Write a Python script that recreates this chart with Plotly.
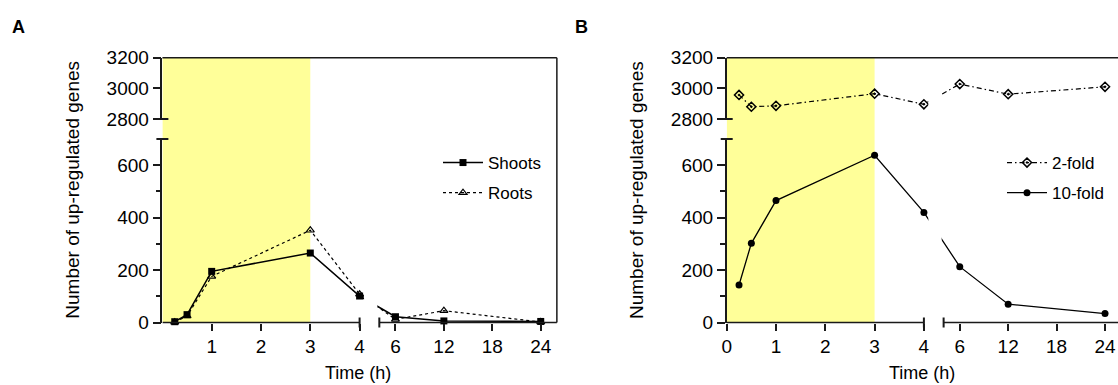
import plotly.graph_objects as go

# ---------------- data ----------------
time_h = [0.25, 0.5, 1, 3, 4, 6, 12, 24]

# Panel A: up-regulated genes in shoots and roots
shoots = [3, 30, 195, 265, 101, 22, 6, 4]
roots = [1, 25, 176, 352, 108, 12, 45, 2]

# Panel B: up-regulated genes at two fold-change thresholds
fold2 = [2957, 2880, 2886, 2965, 2896, 3028, 2962, 3010]
fold10 = [143, 302, 465, 638, 420, 213, 70, 34]

x_tick_hours = [1, 2, 3, 4, 6, 12, 18, 24]
x_tick_hours_b = [0, 1, 2, 3, 4, 6, 12, 18, 24]
y_low_ticks = [0, 200, 400, 600]
y_low_minor = [100, 300, 500]
y_high_ticks = [2800, 3000, 3200]

# ---------------- broken time axis ----------------
# 0-4 h drawn at full scale, then a gap, then 4-26 h compressed
BREAK_T = 4.0
GAP = 0.40
RIGHT_SCALE = 0.1637


def to_axis(t):
    return t if t <= BREAK_T else BREAK_T + GAP + (t - BREAK_T) * RIGHT_SCALE


RIGHT_START = BREAK_T + GAP

W, H = 1118, 385
FONT = "Liberation Sans, Arial, sans-serif"
INK = "#1a1a1a"
YELLOW = "#ffff99"


def px(xp):
    return xp / W


def py(yp):
    return 1 - yp / H


# plot-area geometry (pixels)
A_LEFT, B_LEFT = 162.4, 726.7
UNIT = 49.3  # pixels per hour in the 0-4 h part
X_END = to_axis(26)
Y0, Y700, Y2800, Y3200 = 322.5, 139.0, 119.0, 57.7

a_dom = [px(A_LEFT), px(A_LEFT + X_END * UNIT)]
b_dom = [px(B_LEFT), 1.0]
b_range_end = (W - B_LEFT) / UNIT

low_dom = [py(Y0), py(Y700)]
high_dom = [py(Y2800), py(Y3200)]

fig = go.Figure()

xa = [to_axis(t) for t in time_h]

fig.add_trace(go.Scatter(
    x=xa, y=shoots, name="Shoots", mode="lines+markers", xaxis="x", yaxis="y",
    line=dict(color="black", width=1.5),
    marker=dict(symbol="square", size=7, color="black"),
    cliponaxis=False, legend="legend", legendgroup="s"))
fig.add_trace(go.Scatter(
    x=xa, y=roots, name="Roots", mode="lines+markers", xaxis="x", yaxis="y",
    line=dict(color="black", width=1.2, dash="dot"),
    marker=dict(symbol="triangle-up-open", size=7, color="black", line=dict(width=1.2)),
    cliponaxis=False, legend="legend", legendgroup="r"))
# keeps the upper (2800-3200) segment of panel A's y axis on screen
fig.add_trace(go.Scatter(x=[None], y=[None], xaxis="x", yaxis="y2",
                         showlegend=False, hoverinfo="skip"))

fig.add_trace(go.Scatter(
    x=xa, y=fold2, name="2-fold", mode="lines+markers", xaxis="x2", yaxis="y4",
    line=dict(color="black", width=1.2, dash="5px,3px,1.5px,3px"),
    marker=dict(symbol="diamond-open-dot", size=7, color="black", line=dict(width=1.5)),
    cliponaxis=False, legend="legend2", legendgroup="f2"))
fig.add_trace(go.Scatter(
    x=xa, y=fold10, name="10-fold", mode="lines+markers", xaxis="x2", yaxis="y3",
    line=dict(color="black", width=1.3),
    marker=dict(symbol="circle", size=7, color="black"),
    cliponaxis=False, legend="legend2", legendgroup="f10"))

tick_font = dict(family=FONT, size=19, color="black")


def x_axis(domain, rng, hours, anchor):
    return dict(
        domain=domain, range=rng, anchor=anchor, showline=False, showgrid=False,
        zeroline=False, ticks="outside", ticklen=7, tickwidth=1.5, tickcolor=INK,
        tickvals=[to_axis(h) for h in hours], ticktext=[str(h) for h in hours],
        tickfont=tick_font, automargin=False, fixedrange=True)


def y_axis(domain, rng, ticks, anchor, minor=None):
    d = dict(
        domain=domain, range=rng, anchor=anchor, showline=True, linewidth=1.5,
        linecolor=INK, showgrid=False, zeroline=False, ticks="outside", ticklen=8,
        tickwidth=1.5, tickcolor=INK, tickvals=ticks, tickfont=tick_font,
        automargin=False, fixedrange=True)
    if minor:
        d["minor"] = dict(tickvals=minor, ticks="outside", ticklen=5, tickwidth=1.5,
                          tickcolor=INK)
    return d


shapes = []


def panel_frame(xref, left_px, right_px, draw_right):
    # yellow band for the first 3 h
    shapes.append(dict(type="rect", xref=xref, yref="paper", x0=0, x1=3,
                       y0=py(Y0), y1=py(Y3200), fillcolor=YELLOW, line_width=0,
                       layer="below"))
    # white cover hiding the traces inside the axis break
    shapes.append(dict(type="rect", xref=xref, yref="paper", x0=4.09, x1=4.36,
                       y0=py(Y0 - 1), y1=py(Y3200 + 2), fillcolor="white",
                       line_width=0, layer="above"))
    # x axis line in two pieces
    for a, b in [(0, BREAK_T), (RIGHT_START, 30)]:
        shapes.append(dict(type="line", xref=xref, yref="paper", x0=a, x1=b,
                           y0=py(Y0), y1=py(Y0), line=dict(color=INK, width=1.5)))
    # break marks on the x axis
    for a in [BREAK_T, RIGHT_START]:
        shapes.append(dict(type="line", xref=xref, yref="paper", x0=a, x1=a,
                           y0=py(Y0 + 5), y1=py(Y0 - 5), line=dict(color=INK, width=2)))
    # break marks on the y axis
    for yy in [Y2800, Y700]:
        shapes.append(dict(type="line", xref="paper", yref="paper",
                           x0=px(left_px - 6), x1=px(left_px + 6), y0=py(yy), y1=py(yy),
                           line=dict(color=INK, width=2)))
    # top border
    shapes.append(dict(type="line", xref="paper", yref="paper", x0=px(left_px),
                       x1=px(right_px), y0=py(Y3200), y1=py(Y3200),
                       line=dict(color=INK, width=1.5)))
    if draw_right:
        shapes.append(dict(type="line", xref="paper", yref="paper", x0=px(right_px),
                           x1=px(right_px), y0=py(Y0), y1=py(Y3200),
                           line=dict(color=INK, width=1.5)))


panel_frame("x", A_LEFT, A_LEFT + X_END * UNIT, True)
panel_frame("x2", B_LEFT, W, False)


def label(text, cx, cy, size, angle=0):
    return dict(text=text, x=px(cx), y=py(cy), xref="paper", yref="paper",
                xanchor="center", yanchor="middle", showarrow=False, textangle=angle,
                font=dict(family=FONT, size=size, color="black"))


annotations = [label("<b>A</b>", 18.3, 26.7, 18), label("<b>B</b>", 581.7, 26.7, 18)]
for cx in [72.7, 637.0]:
    annotations.append(label("Number of up-regulated genes", cx, 190, 19, -90))
for cx in [357.8, 922.0]:
    annotations.append(label("Time (h)", cx, 373, 18))

legend_style = dict(font=dict(family=FONT, size=17, color="black"),
                    bgcolor="rgba(0,0,0,0)", borderwidth=0, xanchor="left",
                    yanchor="top", tracegroupgap=5, traceorder="grouped",
                    itemwidth=40)

fig.update_layout(
    width=W, height=H, margin=dict(l=0, r=0, t=0, b=0, autoexpand=False),
    paper_bgcolor="white", plot_bgcolor="white", showlegend=True,
    xaxis=x_axis(a_dom, [0, X_END], x_tick_hours, "y"),
    yaxis=y_axis(low_dom, [0, 700], y_low_ticks, "x", y_low_minor),
    yaxis2=y_axis(high_dom, [2800, 3200], y_high_ticks, "x"),
    xaxis2=x_axis(b_dom, [0, b_range_end], x_tick_hours_b, "y3"),
    yaxis3=y_axis(low_dom, [0, 700], y_low_ticks, "x2", y_low_minor),
    yaxis4=y_axis(high_dom, [2800, 3200], y_high_ticks, "x2"),
    legend=dict(x=px(438), y=py(145), **legend_style),
    legend2=dict(x=px(1002), y=py(145), **legend_style),
    shapes=shapes, annotations=annotations,
)

fig.write_html("out.html")
